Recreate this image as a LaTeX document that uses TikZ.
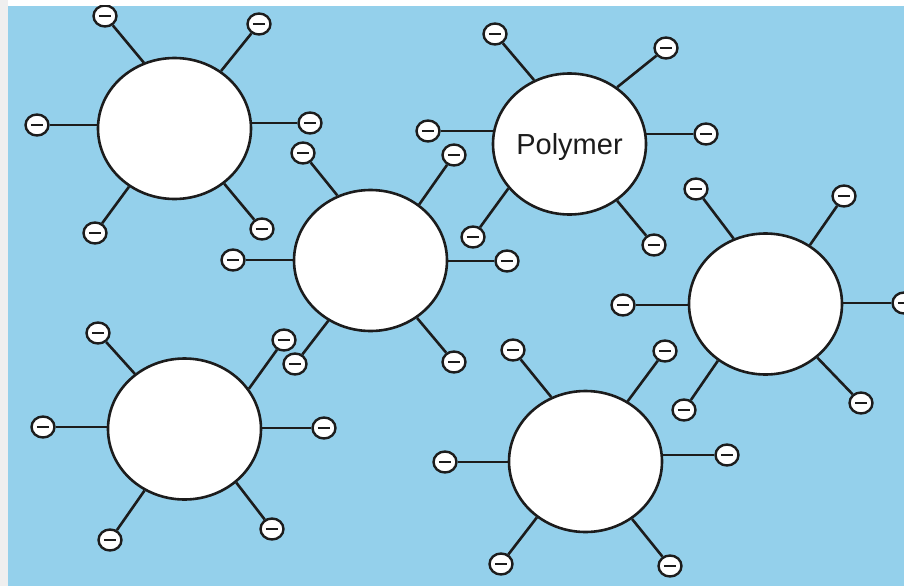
\documentclass[tikz,border=0pt]{standalone}
\usepackage{fontspec}
\setmainfont{Liberation Sans}
\usetikzlibrary{shapes.geometric}
\definecolor{bgblue}{RGB}{148,208,235}
\definecolor{edgegray}{RGB}{239,239,239}
\definecolor{ink}{RGB}{28,28,28}
\newcommand\minusbar{\rule{12.5pt}{2.6pt}}
\tikzset{
  polymer/.style={ellipse, draw=ink, fill=white, line width=2.6pt,
    minimum width=153pt, minimum height=141pt, inner sep=0pt, text=ink,
    font=\fontsize{29}{32}\selectfont},
  charge/.style={ellipse, draw=ink, fill=white, line width=2.4pt,
    minimum width=23pt, minimum height=21pt, inner sep=0pt, text=ink},
  spoke/.style={draw=ink, line width=2.6pt},
}
\begin{document}
\begin{tikzpicture}[x=1pt,y=-1pt]
\fill[white] (0,0) rectangle (904,586);
\fill[edgegray] (0,0) rectangle (8,586);
\useasboundingbox (0,0) rectangle (904,586);
\begin{scope}
\clip (8,6) rectangle (904,586);
\fill[bgblue] (8,6) rectangle (904,586);

% ---- polymer particle 1 (top left)
\node[polymer] (p1) at (174.5,128.5) {};
\node[charge] (p1a) at (105,16) {\minusbar};
\node[charge] (p1b) at (259,24) {\minusbar};
\node[charge] (p1c) at (37,125) {\minusbar};
\node[charge] (p1d) at (310,123) {\minusbar};
\node[charge] (p1e) at (95,233) {\minusbar};
\node[charge] (p1f) at (262,229) {\minusbar};
\draw[spoke] (p1.115) -- (p1a);
\draw[spoke] (p1.51) -- (p1b);
\draw[spoke] (p1c.east) -- (p1c -| p1.west);
\draw[spoke] (p1d.west) -- (p1d -| p1.east);
\draw[spoke] (p1.232) -- (p1e);
\draw[spoke] (p1.312) -- (p1f);

% ---- polymer particle 2 (labelled)
\node[polymer] (p2) at (569.5,144) {\raisebox{-3.5pt}[\height][\depth]{Polymer}};
\node[charge] (p2a) at (495,34) {\minusbar};
\node[charge] (p2b) at (666,48) {\minusbar};
\node[charge] (p2c) at (428,131) {\minusbar};
\node[charge] (p2d) at (706,134) {\minusbar};
\node[charge] (p2e) at (473,237) {\minusbar};
\node[charge] (p2f) at (654,245) {\minusbar};
\draw[spoke] (p2.119) -- (p2a);
\draw[spoke] (p2.50) -- (p2b);
\draw[spoke] (p2c.east) -- ([xshift=1pt]p2c -| p2.west);
\draw[spoke] (p2d.west) -- ([xshift=-1pt]p2d -| p2.east);
\draw[spoke] (p2.216) -- (p2e);
\draw[spoke] (p2.310.4) -- (p2f);

% ---- polymer particle 4 (bottom left)
\node[polymer] (p4) at (184.5,429) {};
\node[charge] (p4a) at (98,333) {\minusbar};
\node[charge] (p4b) at (284,340) {\minusbar};
\node[charge] (p4c) at (43,427) {\minusbar};
\node[charge] (p4d) at (324,428) {\minusbar};
\node[charge] (p4e) at (110,540) {\minusbar};
\node[charge] (p4f) at (272,529) {\minusbar};
\draw[spoke] (p4.132.6) -- (p4a);
\draw[spoke] (p4.32.4) -- (p4b);
\draw[spoke] (p4c.east) -- (p4c -| p4.west);
\draw[spoke] (p4d.west) -- (p4d -| p4.east);
\draw[spoke] (p4.237.9) -- (p4e);
\draw[spoke] (p4.314.2) -- (p4f);

% ---- polymer particle 3 (middle)
\node[polymer] (p3) at (370.5,260.5) {};
\node[charge] (p3a) at (303,153) {\minusbar};
\node[charge] (p3b) at (454,155) {\minusbar};
\node[charge] (p3c) at (233,260) {\minusbar};
\node[charge] (p3d) at (507,261) {\minusbar};
\node[charge] (p3e) at (295,364) {\minusbar};
\node[charge] (p3f) at (454,362) {\minusbar};
\draw[spoke] (p3.117.8) -- (p3a);
\draw[spoke] (p3.49.8) -- (p3b);
\draw[spoke] (p3c.east) -- (p3c -| p3.west);
\draw[spoke] (p3d.west) -- (p3d -| p3.east);
\draw[spoke] (p3.235.8) -- (p3e);
\draw[spoke] (p3.309.6) -- (p3f);

% ---- polymer particle 5 (bottom middle)
\node[polymer] (p5) at (585.5,461.5) {};
\node[charge] (p5a) at (513,350) {\minusbar};
\node[charge] (p5b) at (665,351) {\minusbar};
\node[charge] (p5c) at (445,462) {\minusbar};
\node[charge] (p5d) at (727,455) {\minusbar};
\node[charge] (p5e) at (501,564) {\minusbar};
\node[charge] (p5f) at (670,566) {\minusbar};
\draw[spoke] (p5.118.8) -- (p5a);
\draw[spoke] (p5.55.8) -- (p5b);
\draw[spoke] (p5c.east) -- (p5c -| p5.west);
\draw[spoke] (p5d.west) -- (p5d -| p5.east);
\draw[spoke] (p5.229.2) -- (p5e);
\draw[spoke] (p5.309.6) -- (p5f);

% ---- polymer particle 6 (right)
\node[polymer] (p6) at (765.5,304) {};
\node[charge] (p6a) at (696,189) {\minusbar};
\node[charge] (p6b) at (844,196) {\minusbar};
\node[charge] (p6c) at (623,305) {\minusbar};
\node[charge] (p6d) at (904,303) {\minusbar};
\node[charge] (p6e) at (684,410) {\minusbar};
\node[charge] (p6f) at (861,403) {\minusbar};
\draw[spoke] (p6.116.6) -- (p6a);
\draw[spoke] (p6.53) -- (p6b);
\draw[spoke] (p6c.east) -- (p6c -| p6.west);
\draw[spoke] (p6d.west) -- (p6d -| p6.east);
\draw[spoke] (p6.230.6) -- (p6e);
\draw[spoke] (p6.314.7) -- (p6f);
\end{scope}
\end{tikzpicture}
\end{document}
